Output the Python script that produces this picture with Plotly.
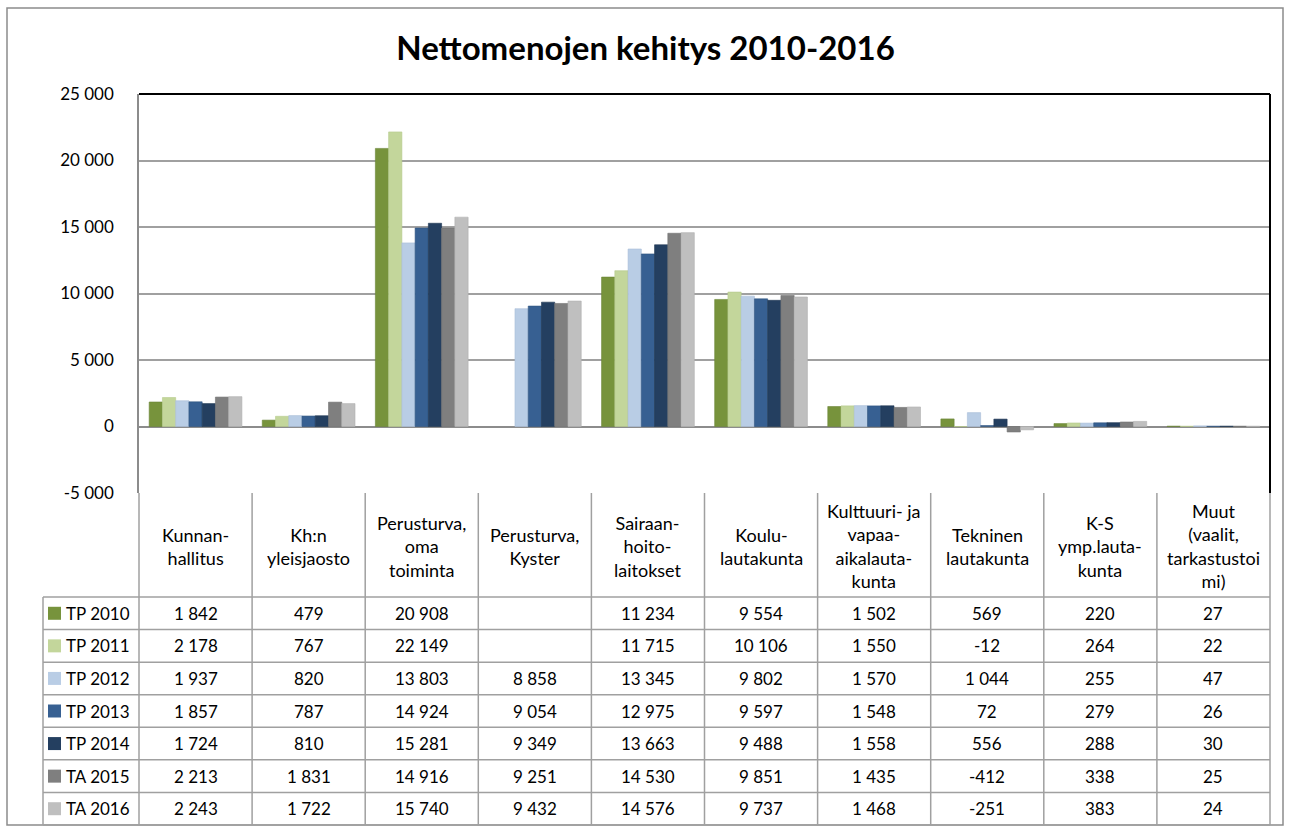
import plotly.graph_objects as go

# ---------------- data ----------------
categories = ["Kunnan-<br>hallitus", "Kh:n<br>yleisjaosto", "Perusturva,<br>oma<br>toiminta",
              "Perusturva,<br>Kyster", "Sairaan-<br>hoito-<br>laitokset", "Koulu-<br>lautakunta",
              "Kulttuuri- ja<br>vapaa-<br>aikalauta-<br>kunta", "Tekninen<br>lautakunta",
              "K-S<br>ymp.lauta-<br>kunta", "Muut<br>(vaalit,<br>tarkastustoi<br>mi)"]
series_names = ["TP 2010", "TP 2011", "TP 2012", "TP 2013", "TP 2014", "TA 2015", "TA 2016"]
tp2010 = [1842, 479, 20908, None, 11234, 9554, 1502, 569, 220, 27]
tp2011 = [2178, 767, 22149, None, 11715, 10106, 1550, -12, 264, 22]
tp2012 = [1937, 820, 13803, 8858, 13345, 9802, 1570, 1044, 255, 47]
tp2013 = [1857, 787, 14924, 9054, 12975, 9597, 1548, 72, 279, 26]
tp2014 = [1724, 810, 15281, 9349, 13663, 9488, 1558, 556, 288, 30]
ta2015 = [2213, 1831, 14916, 9251, 14530, 9851, 1435, -412, 338, 25]
ta2016 = [2243, 1722, 15740, 9432, 14576, 9737, 1468, -251, 383, 24]
series_values = [tp2010, tp2011, tp2012, tp2013, tp2014, ta2015, ta2016]
colors = ["#77933C", "#C3D69B", "#B9CDE5", "#376092", "#243F60", "#7F7F7F", "#BFBFBF"]
line_colors = ["#6A8535", "#B5C98C", "#A9BED8", "#2F5480", "#1E3653", "#727272", "#B0B0B0"]
y_ticks = [-5000, 0, 5000, 10000, 15000, 20000, 25000]
title = "Nettomenojen kehitys 2010-2016"

# ---------------- layout helpers ----------------
W, H = 1291, 826
FONT = "Lato"
def px(x):
    return x / W
def py(y):
    return 1 - y / H

def fmt(v):
    if v is None:
        return ""
    return f"{v:,}".replace(",", " ")

PLOT_L, PLOT_R, PLOT_T, PLOT_B = 139, 1270, 94, 493
ROW_TOP = 597
ROW_H = (825 - 597) / 7
LEG_L = 43
GRID = "#A0A0A0"

fig = go.Figure()
xidx = list(range(len(categories)))
for name, vals, c, lc in zip(series_names, series_values, colors, line_colors):
    fig.add_trace(go.Bar(x=xidx, y=vals, name=name, marker=dict(color=c, line=dict(color=lc, width=0.6)),
                         hoverinfo="x+y+name"))

shapes = []
annotations = []

# outer chart border
shapes.append(dict(type="rect", xref="paper", yref="paper", x0=px(7), x1=px(1283), y0=py(825), y1=py(8),
                   line=dict(color="#8C8C8C", width=1.5), fillcolor="rgba(0,0,0,0)", layer="below"))
# plot area top & right border
shapes.append(dict(type="line", xref="paper", yref="paper", x0=px(PLOT_L), x1=px(PLOT_R), y0=py(PLOT_T), y1=py(PLOT_T),
                   line=dict(color="#000000", width=2)))
shapes.append(dict(type="line", xref="paper", yref="paper", x0=px(PLOT_R), x1=px(PLOT_R), y0=py(PLOT_T), y1=py(PLOT_B),
                   line=dict(color="#000000", width=2)))

# table grid: vertical lines
ncol = len(categories)
colw = (PLOT_R - PLOT_L) / ncol
for i in range(ncol + 1):
    xx = PLOT_L + i * colw
    shapes.append(dict(type="line", xref="paper", yref="paper", x0=px(xx), x1=px(xx), y0=py(PLOT_B), y1=py(825),
                       line=dict(color=GRID, width=1.5)))
# legend column verticals
shapes.append(dict(type="line", xref="paper", yref="paper", x0=px(LEG_L), x1=px(LEG_L), y0=py(ROW_TOP), y1=py(825),
                   line=dict(color=GRID, width=1.5)))
# horizontal lines
for r in range(8):
    yy = ROW_TOP + r * ROW_H
    shapes.append(dict(type="line", xref="paper", yref="paper", x0=px(LEG_L), x1=px(PLOT_R), y0=py(yy), y1=py(yy),
                       line=dict(color=GRID, width=1.5)))

# header texts
for i, cat in enumerate(categories):
    annotations.append(dict(x=i, y=py((PLOT_B + ROW_TOP) / 2 + 1), xref="x", yref="paper", text=cat,
                            showarrow=False, font=dict(family=FONT, size=18, color="#000000"),
                            align="center", xanchor="center", yanchor="middle"))

# rows
for r, (name, vals, c) in enumerate(zip(series_names, series_values, colors)):
    yc = ROW_TOP + (r + 0.5) * ROW_H
    shapes.append(dict(type="rect", xref="paper", yref="paper", x0=px(48), x1=px(61), y0=py(yc + 6.5), y1=py(yc - 6.5),
                       fillcolor=c, line=dict(width=0)))
    annotations.append(dict(x=px(64), y=py(yc), xref="paper", yref="paper", text=name, showarrow=False,
                            font=dict(family=FONT, size=17, color="#000000"), xanchor="left", yanchor="middle"))
    for i, v in enumerate(vals):
        if v is None:
            continue
        annotations.append(dict(x=i, y=py(yc), xref="x", yref="paper", text=fmt(v), showarrow=False,
                                font=dict(family=FONT, size=17, color="#000000"), xanchor="center", yanchor="middle"))

fig.update_layout(
    width=W, height=H,
    margin=dict(l=0, r=0, t=0, b=0, pad=0, autoexpand=False),
    paper_bgcolor="#FFFFFF", plot_bgcolor="#FFFFFF",
    barmode="group", bargap=0.18, bargroupgap=0,
    showlegend=False,
    title=dict(text=f"<b>{title}</b>", x=0.5, xanchor="center", y=py(48), yanchor="middle",
               font=dict(family=FONT, size=33, color="#000000")),
    xaxis=dict(domain=[px(PLOT_L), px(PLOT_R)], range=[-0.5, ncol - 0.5], showticklabels=False,
               showgrid=False, zeroline=False, showline=False, fixedrange=True, automargin=False),
    yaxis=dict(domain=[py(PLOT_B), py(PLOT_T)], range=[-5000, 25000], tickvals=y_ticks,
               ticktext=[fmt(v) for v in y_ticks], tickfont=dict(family=FONT, size=17, color="#000000"),
               showgrid=True, gridcolor=GRID, gridwidth=1.5, zeroline=True, zerolinecolor="#8C8C8C",
               zerolinewidth=1.5, showline=True, linecolor="#8C8C8C", linewidth=1.5, ticks="outside",
               ticklen=0, ticklabelstandoff=20, fixedrange=True, automargin=False),
    shapes=shapes, annotations=annotations,
)

fig.write_html("out.html", config={"displayModeBar": False},
               post_script="document.body.style.margin='0';document.body.style.overflow='hidden';")
